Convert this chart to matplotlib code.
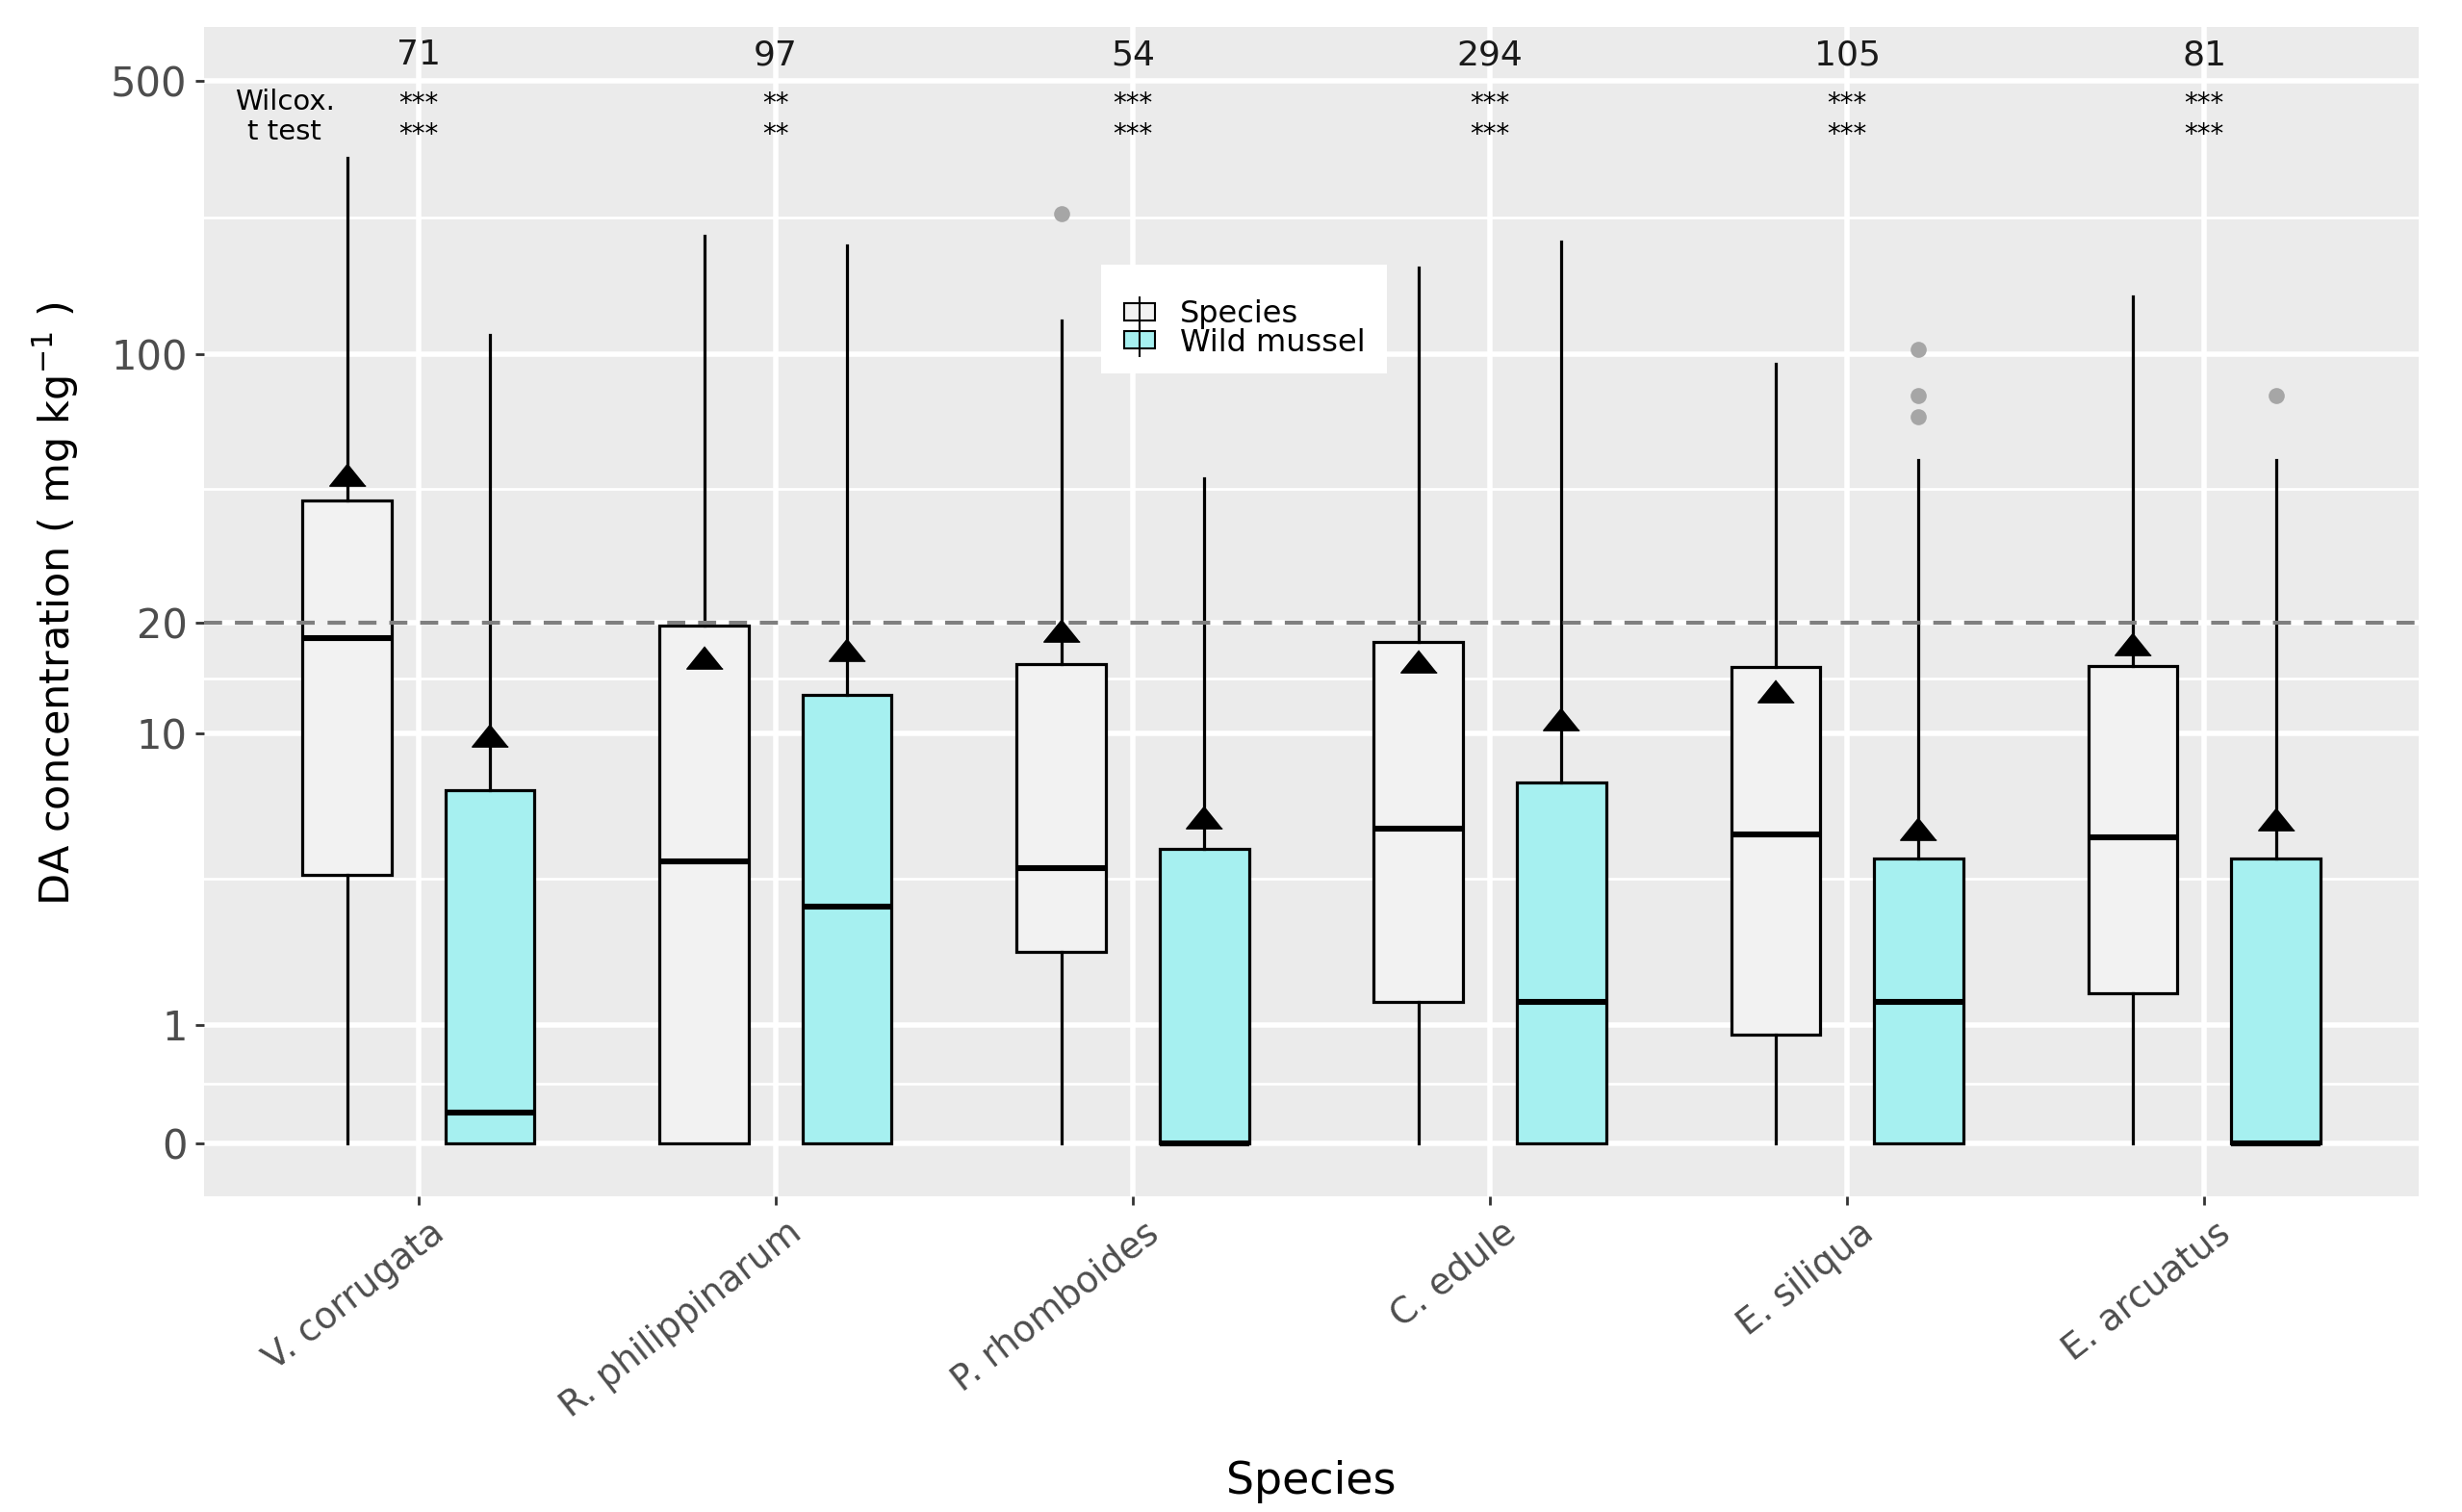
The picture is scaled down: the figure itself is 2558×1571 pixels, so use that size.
import numpy as np
import matplotlib.pyplot as plt
import matplotlib.transforms as mtransforms
from matplotlib.patches import Patch, Rectangle
from matplotlib.lines import Line2D

# --- data (mg/kg) ---
species_names = ['V. corrugata', 'R. philippinarum', 'P. rhomboides',
                 'C. edule', 'E. siliqua', 'E. arcuatus']
n_samples = [71, 97, 54, 294, 105, 81]
wilcox_sig = ['***', '**', '***', '***', '***', '***']
ttest_sig = ['***', '**', '***', '***', '***', '***']

# species boxes
sp_whislo = [0, 0, 0, 0, 0, 0]
sp_q1 = [3.8, 0, 2.07, 1.29, 0.89, 1.40]
sp_med = [18.2, 4.2, 4.0, 5.3, 5.1, 5.0]
sp_q3 = [41.9, 19.7, 15.5, 17.8, 15.2, 15.3]
sp_whishi = [318, 201, 121.7, 167, 94.5, 141]
sp_mean = [49, 16.2, 19.1, 15.8, 13.1, 17.6]
sp_fliers = [[], [], [228.6], [], [], []]

# wild mussel boxes
wm_whislo = [0, 0, 0, 0, 0, 0]
wm_q1 = [0, 0, 0, 0, 0, 0]
wm_med = [0.2, 3.0, 0, 1.29, 1.29, 0]
wm_q3 = [6.9, 12.8, 4.61, 7.27, 4.28, 4.28]
wm_whishi = [112, 190, 47.9, 193.7, 53.3, 53.3]
wm_mean = [9.9, 17.0, 5.73, 11.0, 5.31, 5.66]
wm_fliers = [[], [], [], [], [103, 78.4, 69], [78.4]]

ytick_vals = [0, 1, 10, 20, 100, 500]
limit_line = 20


def fwd(y):
    return np.log10(np.maximum(np.asarray(y, float) + 1, 1e-9))


def inv(t):
    return 10 ** np.asarray(t, float) - 1


def make_stats(lo, q1, med, q3, hi, mean, fl):
    return [dict(whislo=a, q1=b, med=c, q3=d, whishi=e, mean=f, fliers=g)
            for a, b, c, d, e, f, g in zip(lo, q1, med, q3, hi, mean, fl)]


fig = plt.figure(figsize=(25.58, 15.71), dpi=100)
ax = fig.add_axes([0.0829, 0.2088, 0.8995, 0.7734])
ax.set_yscale('function', functions=(fwd, inv))
ax.set_facecolor('#EBEBEB')
for s in ax.spines.values():
    s.set_visible(False)
ax.set_axisbelow(True)

x = np.arange(1, len(species_names) + 1)
tri = [(0, 0.62), (-1, -0.62), (1, -0.62)]

common = dict(widths=0.25, patch_artist=True, showmeans=True, showcaps=False,
              whiskerprops=dict(color='black', lw=2.3),
              medianprops=dict(color='black', lw=4.4),
              meanprops=dict(marker=tri, markerfacecolor='black',
                             markeredgecolor='black', markersize=27),
              flierprops=dict(marker='o', markerfacecolor='#A6A6A6',
                              markeredgecolor='none', markersize=12))

ax.bxp(make_stats(sp_whislo, sp_q1, sp_med, sp_q3, sp_whishi, sp_mean, sp_fliers),
       positions=x - 0.2,
       boxprops=dict(facecolor='#F2F2F2', edgecolor='black', linewidth=2.3),
       **common)
ax.bxp(make_stats(wm_whislo, wm_q1, wm_med, wm_q3, wm_whishi, wm_mean, wm_fliers),
       positions=x + 0.2,
       boxprops=dict(facecolor='#A6F0F0', edgecolor='black', linewidth=2.3),
       **common)

ax.axhline(limit_line, color='#7F7F7F', lw=3, dashes=(4.5, 3.2), zorder=2.5)

# axes
ax.set_xlim(0.4, 6.6)
ax.set_ylim(-0.266, 684)
ax.set_xticks(x)
ax.set_xticklabels(species_names, rotation=38, ha='right', rotation_mode='anchor',
                   fontsize=27, color='#4D4D4D')
ax.set_yticks(ytick_vals)
ax.set_yticklabels([str(v) for v in ytick_vals], fontsize=30, color='#4D4D4D')
minor = [float(inv((fwd(a) + fwd(b)) / 2)) for a, b in zip(ytick_vals[:-1], ytick_vals[1:])]
ax.set_yticks(minor, minor=True)
ax.tick_params(axis='both', which='major', length=6.5, width=2, color='#333333')
ax.tick_params(axis='x', pad=8)
ax.tick_params(axis='y', pad=6)
ax.tick_params(which='minor', length=0)
ax.grid(which='major', color='white', lw=4)
ax.grid(which='minor', axis='y', color='white', lw=2)

offset = mtransforms.ScaledTranslation(0.12, 0, fig.dpi_scale_trans)
for lbl in ax.get_xticklabels():
    lbl.set_transform(lbl.get_transform() + offset)

ax.set_ylabel(r'DA concentration ( mg kg$^{-1}$ )', fontsize=31, va='center')
ax.yaxis.set_label_coords(-0.0669, 0.507)
ax.set_xlabel('Species', fontsize=33, va='center')
ax.xaxis.set_label_coords(0.5, -0.244)

# sample sizes and significance
tr = ax.get_xaxis_transform()
for xi, n, w, t in zip(x, n_samples, wilcox_sig, ttest_sig):
    ax.text(xi, 0.976, str(n), transform=tr, ha='center', va='center',
            fontsize=26, color='#1A1A1A')
    ax.text(xi, 0.934, w, transform=tr, ha='center', va='center', fontsize=20)
    ax.text(xi, 0.908, t, transform=tr, ha='center', va='center', fontsize=20)
ax.text(0.626, 0.936, 'Wilcox.', transform=tr, ha='center', va='center', fontsize=21)
ax.text(0.626, 0.910, 't test', transform=tr, ha='center', va='center', fontsize=21)

# legend
ax.add_patch(Rectangle((0.405, 0.704), 0.129, 0.093, transform=ax.transAxes,
                       facecolor='white', edgecolor='none', zorder=4))
handles = [
    (Patch(facecolor='#F2F2F2', edgecolor='black', lw=1.5),
     Line2D([], [], marker='|', ls='none', color='black', ms=24, mew=1.5)),
    (Patch(facecolor='#A6F0F0', edgecolor='black', lw=1.5),
     Line2D([], [], marker='|', ls='none', color='black', ms=24, mew=1.5)),
]
leg = ax.legend(handles, ['Species', 'Wild mussel'], loc='center left',
                bbox_to_anchor=(0.4155, 0.742), frameon=False, fontsize=23,
                handlelength=1.0, handleheight=0.5, handletextpad=0.8,
                labelspacing=-0.05, borderpad=0, borderaxespad=0)
leg.set_zorder(5)

fig.savefig('out.png', dpi=100)
